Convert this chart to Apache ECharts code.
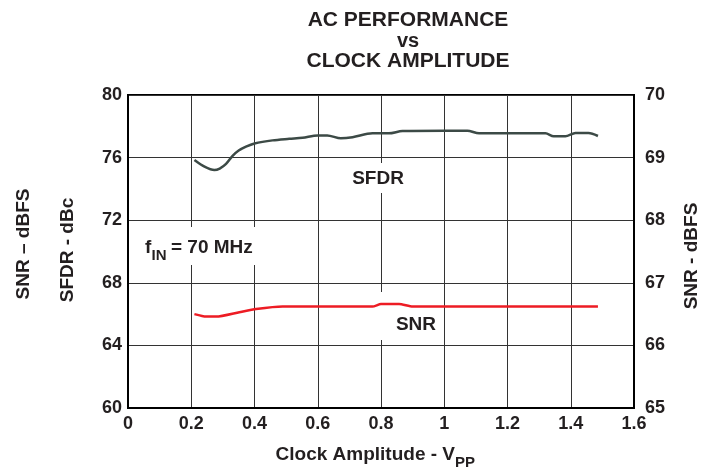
<!DOCTYPE html>
<html>
<head>
<meta charset="utf-8">
<script src="https://cdn.jsdelivr.net/npm/echarts@6/dist/echarts.min.js"></script>
<style>html,body{margin:0;padding:0;background:#fff;}#c{width:710px;height:470px;}</style>
</head>
<body>
<div id="c"></div>
<script>
// ---- data ----
var xTicks = [0, 0.2, 0.4, 0.6, 0.8, 1, 1.2, 1.4, 1.6];
var sfdrTicks = [60, 64, 68, 72, 76, 80];
var snrTicks = [65, 66, 67, 68, 69, 70];

var sfdrAmp = [0.21, 0.242, 0.273, 0.29, 0.31, 0.33, 0.35, 0.373, 0.40, 0.457, 0.51, 0.552, 0.60, 0.63, 0.673, 0.71, 0.773, 0.825, 0.868, 1.0, 1.073, 1.11, 1.32, 1.346, 1.383, 1.415, 1.456, 1.486];
var sfdrVal = [75.85, 75.42, 75.2, 75.3, 75.6, 76.1, 76.45, 76.7, 76.9, 77.1, 77.2, 77.27, 77.42, 77.42, 77.23, 77.3, 77.55, 77.55, 77.7, 77.72, 77.72, 77.55, 77.55, 77.36, 77.36, 77.57, 77.57, 77.38];

var snrAmp = [0.21, 0.247, 0.279, 0.352, 0.405, 0.489, 0.773, 0.80, 0.857, 0.9, 1.486];
var snrVal = [66.5, 66.46, 66.46, 66.53, 66.58, 66.62, 66.62, 66.66, 66.66, 66.62, 66.62];

function pairs(xs, ys) { return xs.map(function (x, i) { return [x, ys[i]]; }); }

var FONT = '"Liberation Sans", Arial, sans-serif';
var TXT = '#231f20';

var chart = echarts.init(document.getElementById('c'));
chart.setOption({
  animation: false,
  backgroundColor: '#fff',
  grid: { left: 128, right: 76, top: 95, bottom: 62, show: true, borderColor: '#000', borderWidth: 2, backgroundColor: 'transparent' },
  xAxis: {
    type: 'value', min: xTicks[0], max: xTicks[xTicks.length - 1], interval: 0.2,
    axisLine: { show: true, lineStyle: { color: '#000', width: 2 } },
    axisTick: { show: false },
    axisLabel: { margin: 7, color: TXT, fontFamily: FONT, fontWeight: 'bold', fontSize: 18,
      formatter: function (v) { return String(Math.round(v * 10) / 10); } },
    splitLine: { show: true, lineStyle: { color: '#333', width: 1 } }
  },
  yAxis: [{
    type: 'value', min: sfdrTicks[0], max: sfdrTicks[sfdrTicks.length - 1], interval: 4,
    axisLine: { show: true, lineStyle: { color: '#000', width: 2 } },
    axisTick: { show: false },
    axisLabel: { margin: 6, color: TXT, fontFamily: FONT, fontWeight: 'bold', fontSize: 18 },
    splitLine: { show: true, lineStyle: { color: '#333', width: 1 } }
  }, {
    type: 'value', position: 'right', min: snrTicks[0], max: snrTicks[snrTicks.length - 1], interval: 1,
    axisLine: { show: true, lineStyle: { color: '#000', width: 2 } },
    axisTick: { show: false },
    axisLabel: { margin: 11, color: TXT, fontFamily: FONT, fontWeight: 'bold', fontSize: 18 },
    splitLine: { show: false }
  }],
  series: [{
    name: 'SFDR', type: 'line', yAxisIndex: 0, data: pairs(sfdrAmp, sfdrVal),
    showSymbol: false, smooth: 0.3, z: 5,
    lineStyle: { color: '#3c4a46', width: 2.5 }
  }, {
    name: 'SNR', type: 'line', yAxisIndex: 1, data: pairs(snrAmp, snrVal),
    showSymbol: false, smooth: 0.2, z: 5,
    lineStyle: { color: '#ed1c24', width: 2.5 }
  }],
  graphic: [
    // title
    { type: 'text', x: 408, y: 20, z: 10, style: { text: 'AC PERFORMANCE', font: 'bold 21px ' + FONT, fill: TXT, align: 'center', verticalAlign: 'middle' } },
    { type: 'text', x: 408, y: 41, z: 10, style: { text: 'vs', font: 'bold 20px ' + FONT, fill: TXT, align: 'center', verticalAlign: 'middle' } },
    { type: 'text', x: 408, y: 61, z: 10, style: { text: 'CLOCK AMPLITUDE', font: 'bold 21px ' + FONT, fill: TXT, align: 'center', verticalAlign: 'middle' } },
    // axis names
    { type: 'text', x: 23.5, y: 244, rotation: Math.PI / 2, z: 10, style: { text: 'SNR \u2013 dBFS', font: 'bold 19px ' + FONT, fill: TXT, align: 'center', verticalAlign: 'middle' } },
    { type: 'text', x: 68, y: 250, rotation: Math.PI / 2, z: 10, style: { text: 'SFDR - dBc', font: 'bold 19px ' + FONT, fill: TXT, align: 'center', verticalAlign: 'middle' } },
    { type: 'text', x: 692, y: 256, rotation: Math.PI / 2, z: 10, style: { text: 'SNR - dBFS', font: 'bold 19px ' + FONT, fill: TXT, align: 'center', verticalAlign: 'middle' } },
    { type: 'text', x: 455, y: 455, z: 10, style: { text: 'Clock Amplitude - V', font: 'bold 19px ' + FONT, fill: TXT, align: 'right', verticalAlign: 'middle' } },
    { type: 'text', x: 455, y: 463, z: 10, style: { text: 'PP', font: 'bold 15px ' + FONT, fill: TXT, align: 'left', verticalAlign: 'middle' } },
    // annotation boxes (white, break gridlines)
    { type: 'rect', z: 1, shape: { x: 140, y: 227, width: 126, height: 38 }, style: { fill: '#fff' } },
    { type: 'rect', z: 1, shape: { x: 346, y: 163, width: 64, height: 30 }, style: { fill: '#fff' } },
    { type: 'rect', z: 1, shape: { x: 376, y: 292, width: 64, height: 48 }, style: { fill: '#fff' } },
    // annotation texts
    { type: 'text', x: 378, y: 179, z: 10, style: { text: 'SFDR', font: 'bold 19px ' + FONT, fill: TXT, align: 'center', verticalAlign: 'middle' } },
    { type: 'text', x: 416, y: 325, z: 10, style: { text: 'SNR', font: 'bold 19px ' + FONT, fill: TXT, align: 'center', verticalAlign: 'middle' } },
    { type: 'text', x: 145, y: 248, z: 10, style: { text: 'f', font: 'bold 19px ' + FONT, fill: TXT, align: 'left', verticalAlign: 'middle' } },
    { type: 'text', x: 151.5, y: 256, z: 10, style: { text: 'IN', font: 'bold 15px ' + FONT, fill: TXT, align: 'left', verticalAlign: 'middle' } },
    { type: 'text', x: 171, y: 248, z: 10, style: { text: '= 70 MHz', font: 'bold 19px ' + FONT, fill: TXT, align: 'left', verticalAlign: 'middle' } }
  ]
});
</script>
</body>
</html>
